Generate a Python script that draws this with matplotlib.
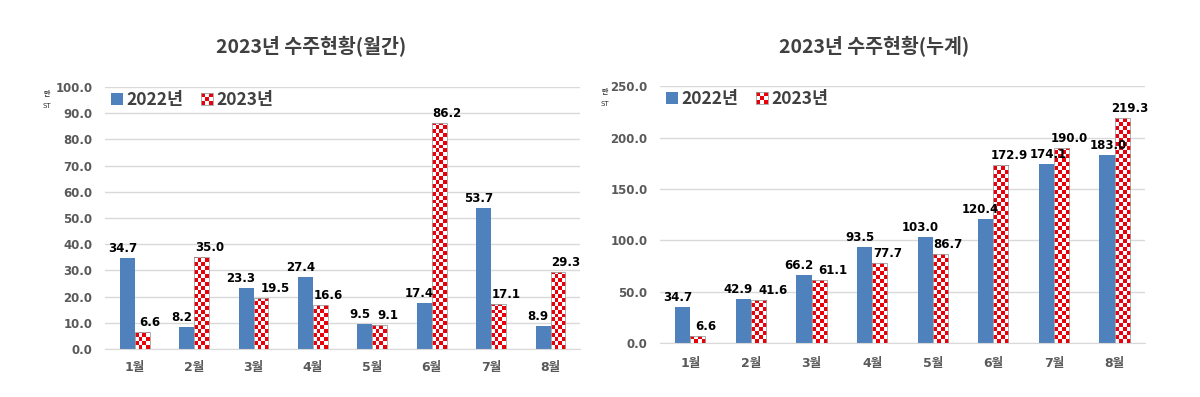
"""2023년 수주현황 (월간 / 누계) 막대 그래프."""

import matplotlib
matplotlib.use('Agg')
import matplotlib.pyplot as plt
from matplotlib.patches import Rectangle
from matplotlib.legend_handler import HandlerBase
from matplotlib.colors import ListedColormap
import numpy as np

plt.rcParams['font.family'] = ['Noto Sans CJK KR', 'DejaVu Sans']
NUM_FONT = ['DejaVu Sans', 'Noto Sans CJK KR']

# 데이터
months = ['1월', '2월', '3월', '4월', '5월', '6월', '7월', '8월']
series_names = ['2022년', '2023년']
monthly_2022 = [34.7, 8.2, 23.3, 27.4, 9.5, 17.4, 53.7, 8.9]
monthly_2023 = [6.6, 35.0, 19.5, 16.6, 9.1, 86.2, 17.1, 29.3]
cum_2022 = [34.7, 42.9, 66.2, 93.5, 103.0, 120.4, 174.1, 183.0]
cum_2023 = [6.6, 41.6, 61.1, 77.7, 86.7, 172.9, 190.0, 219.3]

BLUE = '#4f81bd'
RED = '#e8000b'
TXT = '#404040'
TICK = '#595959'

cmap_chk = ListedColormap(['white', RED])


class CheckerHandler(HandlerBase):
    """Cuadro de leyenda con patrón de cuadros."""
    def create_artists(self, legend, orig_handle, xdescent, ydescent,
                       width, height, fontsize, trans):
        s = min(width, height)
        x0 = -xdescent + (width - s) / 2
        y0 = -ydescent + (height - s) / 2
        arts = []
        n = 3
        c = s / n
        for i in range(n):
            for j in range(n):
                fc = RED if (i + j) % 2 == 0 else 'white'
                arts.append(Rectangle((x0 + i * c, y0 + j * c), c, c, fc=fc,
                                      ec='none', transform=trans))
        arts.append(Rectangle((x0, y0), s, s, fc='none', ec='#a0a0a0',
                              lw=0.6, transform=trans))
        return arts


class SquareHandler(HandlerBase):
    def create_artists(self, legend, orig_handle, xdescent, ydescent,
                       width, height, fontsize, trans):
        s = min(width, height)
        x0 = -xdescent + (width - s) / 2
        y0 = -ydescent + (height - s) / 2
        return [Rectangle((x0, y0), s, s, fc=BLUE, ec='none', transform=trans)]


def etiquetas(ax, x, v22, v23, w):
    """Etiquetas de datos; se separan si chocan."""
    renderer = ax.figure.canvas.get_renderer()
    kw = dict(ha='center', va='bottom', fontsize=8.5, fontweight='bold',
              color='black', family=NUM_FONT, zorder=6,
              textcoords='offset pixels', annotation_clip=False)
    prev = None
    for i, a, b in zip(x, v22, v23):
        tb = ax.annotate(f'{a:.1f}', (i - w / 2, a), xytext=(-5, 3), **kw)
        eb = tb.get_window_extent(renderer)
        # choque con la etiqueta roja del mes anterior
        if prev is not None and abs(eb.y0 - prev.y0) < eb.height \
                and eb.x0 < prev.x1 + 2:
            dx = prev.x1 + 2 - eb.x0
            tb.xyann = (-5 + dx, 3)
            eb = tb.get_window_extent(renderer)
        tr = ax.annotate(f'{b:.1f}', (i + w / 2, b), xytext=(8, 3), **kw)
        er = tr.get_window_extent(renderer)
        if abs(eb.y0 - er.y0) < eb.height and er.x0 < eb.x1 + 5:
            tr.xyann = (8 + (eb.x1 + 5 - er.x0), 3)
            er = tr.get_window_extent(renderer)
        prev = er


def dibujar(ax, v22, v23, ymax, step, cell_h, title, title_x, unit_xy, xpad):
    x = np.arange(len(months))
    w = 0.25
    ax.bar(x - w / 2, v22, width=w, color=BLUE, zorder=2)
    bars = ax.bar(x + w / 2, v23, width=w, color='none', edgecolor='#a0a0a0',
                  linewidth=0.6, zorder=4)
    for b in bars:
        x0, y0 = b.get_x(), b.get_y()
        bw, bh = b.get_width(), b.get_height()
        nx = 4
        ny = max(1, int(np.ceil(bh / cell_h)))
        arr = np.indices((ny, nx)).sum(axis=0) % 2
        im = ax.imshow(arr, cmap=cmap_chk, origin='lower', aspect='auto',
                       interpolation='nearest',
                       extent=(x0, x0 + bw, y0, y0 + ny * cell_h), zorder=3)
        clip = Rectangle((x0, y0), bw, bh, transform=ax.transData)
        im.set_clip_path(clip)

    ax.set_xlim(-0.5, len(months) - 0.5)
    ax.set_ylim(0, ymax)
    ticks = np.arange(0, ymax + step / 2, step)
    ax.set_yticks(ticks)
    ax.set_yticklabels([f'{t:.1f}' for t in ticks], family=NUM_FONT,
                       fontsize=8.5, fontweight='bold')
    ax.set_xticks(x)
    ax.set_xticklabels(months, fontsize=9, fontweight='bold', family=NUM_FONT)
    ax.tick_params(axis='both', length=0, labelcolor=TICK)
    ax.tick_params(axis='x', pad=xpad)
    ax.tick_params(axis='y', pad=9)
    ax.grid(axis='y', color='#d9d9d9', linewidth=1, zorder=0)
    ax.set_axisbelow(True)
    for s in ['top', 'right', 'left']:
        ax.spines[s].set_visible(False)
    ax.spines['bottom'].set_color('#d9d9d9')
    ax.set_title(title, fontsize=14, fontweight='bold', color=TXT, pad=24,
                 x=title_x)

    h1 = Rectangle((0, 0), 1, 1)
    h2 = Rectangle((0, 0), 1, 1)
    leg = ax.legend([h1, h2], series_names, loc='upper left',
                    bbox_to_anchor=(-0.02, 1.045), ncol=2, frameon=False,
                    handler_map={h1: SquareHandler(), h2: CheckerHandler()},
                    prop={'size': 12.5, 'weight': 'bold'}, handlelength=0.7,
                    handletextpad=0.2, columnspacing=1.0)
    for t in leg.get_texts():
        t.set_color(TXT)
    # unidad (texto pequeño a la izquierda del eje)
    fig_ = ax.figure
    fig_.text(unit_xy[0], unit_xy[1] + 0.016, '만', fontsize=5, color='#303030',
              ha='center', va='center', fontweight='bold')
    fig_.text(unit_xy[0], unit_xy[1] - 0.016, 'ST', fontsize=5, color='#303030',
              ha='center', va='center', family=NUM_FONT)
    etiquetas(ax, x, v22, v23, w)


fig = plt.figure(figsize=(12, 3.97), dpi=100)
ax1 = fig.add_axes([0.0875, 0.121, 0.396, 0.660])
ax2 = fig.add_axes([0.550, 0.136, 0.404, 0.647])

dibujar(ax1, monthly_2022, monthly_2023, 100, 10, 1.5,
        '2023년 수주현황(월간)', 0.434, (0.039, 0.748), 9)
dibujar(ax2, cum_2022, cum_2023, 250, 50, 3.9,
        '2023년 수주현황(누계)', 0.441, (0.504, 0.753), 10)

fig.savefig('out.png', dpi=100, facecolor='white')
